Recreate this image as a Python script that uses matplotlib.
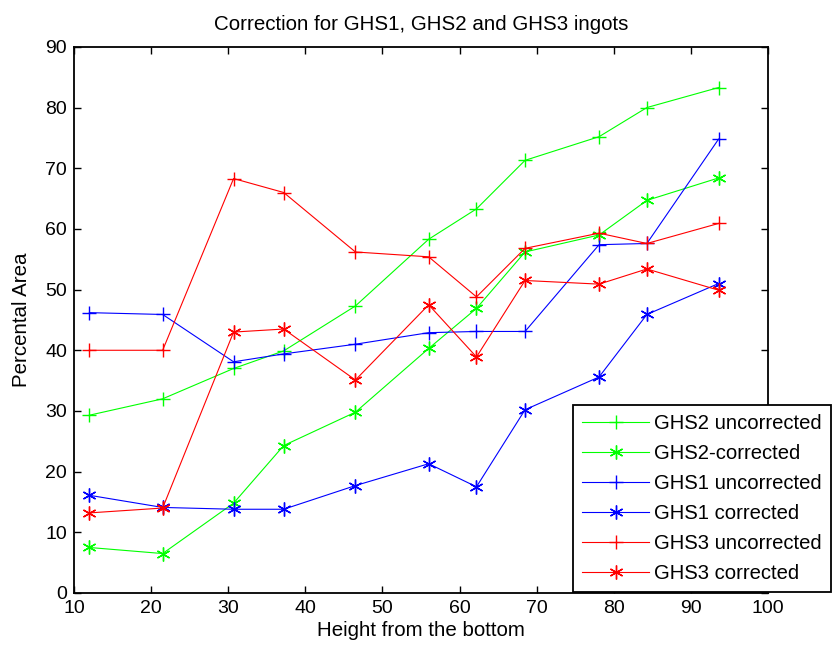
import numpy as np
import matplotlib
matplotlib.use('Agg')
import matplotlib.pyplot as plt

plt.rcParams['font.family'] = ['Liberation Sans', 'DejaVu Sans']

# 높이 (bottom 기준)
height = [12, 21.5, 30.7, 37.2, 46.5, 56, 62.2, 68.5, 78.1, 84.3, 93.6]

# 면적 비율 (%)
ghs2_uncorr = [29.3, 32.0, 37.0, 39.9, 47.3, 58.3, 63.3, 71.3, 75.2, 80.0, 83.3]
ghs2_corr = [7.5, 6.5, 14.8, 24.3, 29.8, 40.3, 46.9, 56.2, 59.0, 64.7, 68.4]
ghs1_uncorr = [46.2, 45.9, 38.1, 39.4, 41.0, 42.9, 43.1, 43.1, 57.4, 57.6, 74.8]
ghs1_corr = [16.1, 14.1, 13.8, 13.8, 17.7, 21.3, 17.5, 30.2, 35.6, 45.9, 51.0]
ghs3_uncorr = [40.0, 40.0, 68.3, 66.0, 56.2, 55.4, 48.8, 56.8, 59.3, 57.6, 60.9]
ghs3_corr = [13.2, 14.0, 43.0, 43.5, 35.1, 47.5, 38.9, 51.5, 50.9, 53.4, 49.9]

series = [
    (ghs2_uncorr, '#00ff00', '+', 'GHS2 uncorrected'),
    (ghs2_corr, '#00ff00', (6, 2, 0), 'GHS2-corrected'),
    (ghs1_uncorr, '#0000ff', '+', 'GHS1 uncorrected'),
    (ghs1_corr, '#0000ff', (6, 2, 0), 'GHS1 corrected'),
    (ghs3_uncorr, '#ff0000', '+', 'GHS3 uncorrected'),
    (ghs3_corr, '#ff0000', (6, 2, 0), 'GHS3 corrected'),
]

fig = plt.figure(figsize=(8.33, 6.51), dpi=100)
ax = fig.add_axes([0.0888, 0.0891, 0.8331, 0.8389])

for vals, col, mk, lab in series:
    ax.plot(height, vals, color=col, marker=mk, markersize=10,
            markeredgewidth=1.0, linewidth=0.8, label=lab)

ax.set_xlim(10, 100)
ax.set_ylim(0, 90)
ax.set_xticks(np.arange(10, 101, 10))
ax.set_yticks(np.arange(0, 91, 10))
ax.tick_params(direction='in', length=5, width=1, top=True, right=True,
               labelsize=14, pad=5)
for sp in ax.spines.values():
    sp.set_linewidth(1.3)

ax.set_title('Correction for GHS1, GHS2 and GHS3 ingots', fontsize=14.8, pad=12)
ax.set_xlabel('Height from the bottom', fontsize=14.8, labelpad=3)
ax.set_ylabel('Percental Area', fontsize=14.8, labelpad=10)

leg = ax.legend(loc='upper left', bbox_to_anchor=(0.6879, 0.3779),
                bbox_transform=fig.transFigure, fontsize=14.6,
                fancybox=False, edgecolor='black', framealpha=1,
                borderpad=0.45, labelspacing=0.54, handlelength=3.3,
                handletextpad=0.25, borderaxespad=0)
leg.get_frame().set_linewidth(1.3)

fig.savefig('out.png', dpi=100)
